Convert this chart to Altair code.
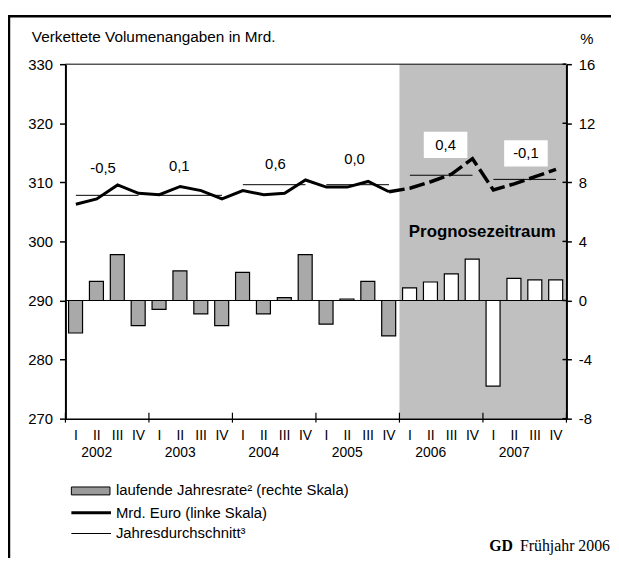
import altair as alt
import pandas as pd

# ---------------- data ----------------
quarters = ["I", "II", "III", "IV"] * 6
years = ["2002", "2003", "2004", "2005", "2006", "2007"]
# laufende Jahresrate (right scale, %)
rate = [-2.2, 1.3, 3.1, -1.7, -0.6, 2.0, -0.9, -1.7, 1.9, -0.9, 0.2, 3.1,
        -1.6, 0.1, 1.3, -2.4, 0.85, 1.25, 1.8, 2.8, -5.8, 1.5, 1.4, 1.4]
# Mrd. Euro (left scale), actual 2002Q1-2005Q4
gdp_actual = [306.3, 307.2, 309.55, 308.15, 307.9, 309.3, 308.6, 307.2,
              308.6, 307.9, 308.15, 310.4, 309.2, 309.2, 310.15, 308.4]
# forecast 2006Q1-2007Q4
gdp_forecast = [309.0, 310.1, 311.4, 314.0, 308.7, 309.75, 310.95, 312.2]
# Jahresdurchschnitt
annual_avg = [307.8, 307.8, 309.6, 309.6, 311.2, 310.5]
growth_labels = ["-0,5", "0,1", "0,6", "0,0", "0,4", "-0,1"]
# label anchor positions (quarter units / left-scale units)
label_x = [1.8, 5.45, 10.06, 13.85, 18.21, 22.06]
label_y = [312.45, 312.75, 313.1, 313.9, 316.35, 314.9]
forecast_start = 16

FONT = "Liberation Sans"
FONT_N = "Liberation Sans Narrow, Arial Narrow, Liberation Sans"
SERIF = "Liberation Serif"
W, H = 506, 358

n = len(quarters)
idx = list(range(n))

bar_df = pd.DataFrame({
    "x0": [i + 0.15 for i in idx],
    "x1": [i + 0.82 for i in idx],
    "rate": rate,
    "zero": [0] * n,
    "fc": [i >= forecast_start for i in idx],
})
act_df = pd.DataFrame({"x": [i + 0.5 for i in range(len(gdp_actual))], "v": gdp_actual})
fc_df = pd.DataFrame({
    "x": [forecast_start - 0.5] + [forecast_start + i + 0.5 for i in range(len(gdp_forecast))],
    "v": [gdp_actual[-1]] + gdp_forecast,
})
avg_df = pd.DataFrame({
    "x0": [4 * k + 0.5 for k in range(len(years))],
    "x1": [4 * k + 3.5 for k in range(len(years))],
    "v": annual_avg,
})
lab_df = pd.DataFrame({"x": label_x, "y": label_y, "t": growth_labels,
                       "fc": [4 * k >= forecast_start for k in range(len(years))]})
q_df = pd.DataFrame({"x": [i + 0.5 for i in idx], "q": quarters})
y_df = pd.DataFrame({"x": [4 * k + 1.5 for k in range(len(years))], "y": years})
tick_df = pd.DataFrame({"x": list(range(0, n + 1, 4))})
fcst_df = pd.DataFrame({"x0": [forecast_start], "x1": [n]})
span_df = pd.DataFrame({"x0": [0], "x1": [n], "top": [330], "zero": [0]})
rtick_df = pd.DataFrame({"v": list(range(-8, 17, 4))})
one = pd.DataFrame({"a": [0]})

# ---------------- scales / axes ----------------
XS = alt.Scale(domain=[0, n], nice=False, zero=False)
x_axis = alt.Axis(values=list(range(0, n + 1, 4)), labels=False, ticks=False,
                  domainWidth=1.5, domainColor="black", grid=False, title=None, zindex=1)
LS = alt.Scale(domain=[270, 330], nice=False, zero=False)
l_axis = alt.Axis(orient="left", values=list(range(270, 331, 10)), tickSize=6, tickWidth=1.5,
                  domainWidth=2, domainColor="black", tickColor="black", labelPadding=7,
                  grid=False, title=None, zindex=1, labelFontSize=15, labelFont=FONT,
                  labelColor="black")
RS = alt.Scale(domain=[-8, 16], nice=False, zero=False)
r_axis = alt.Axis(orient="right", values=list(range(-8, 17, 4)), tickSize=5, tickWidth=1.5,
                  domainWidth=2, domainColor="black", tickColor="black", labelPadding=7,
                  grid=False, title=None, zindex=1, labelFontSize=15, labelFont=FONT,
                  labelColor="black", labelExpr="'' + datum.value")


def xq(f):
    return alt.X(f"{f}:Q", scale=XS, axis=x_axis)


def yl(f):
    return alt.Y(f"{f}:Q", scale=LS, axis=l_axis)


def yr(f):
    return alt.Y(f"{f}:Q", scale=RS, axis=r_axis)


def txt(text, x, y, size=15, align="left", weight="normal", font=FONT):
    return alt.Chart(one).mark_text(align=align, baseline="middle", fontSize=size,
                                    fontWeight=weight, font=font, color="black").encode(
        x=alt.value(x), y=alt.value(y), text=alt.value(text))


# ---------------- group A1: forecast shading ----------------
shade = alt.Chart(fcst_df).mark_rect(color="#c0c0c0").encode(
    x=xq("x0"), x2="x1", y=alt.value(0), y2=alt.value(H))

# ---------------- group B: bars on right scale ----------------
zero_line = alt.Chart(span_df).mark_rule(color="black", strokeWidth=1).encode(
    x=xq("x0"), x2="x1", y=yr("zero"))
bars_act = alt.Chart(bar_df[~bar_df.fc]).mark_rect(
    fill="#a9a9a9", stroke="black", strokeWidth=1.2).encode(
    x=xq("x0"), x2="x1", y=yr("rate"), y2="zero")
bars_fc = alt.Chart(bar_df[bar_df.fc]).mark_rect(
    fill="white", stroke="black", strokeWidth=1.2).encode(
    x=xq("x0"), x2="x1", y=yr("rate"), y2="zero")
rticks = alt.Chart(rtick_df).mark_rule(color="black", strokeWidth=1.5).encode(
    y=yr("v"), x=alt.value(W - 4), x2=alt.value(W))
group_b = alt.layer(zero_line, bars_act, bars_fc, rticks)

# ---------------- group C: lines on left scale ----------------
avg_rules = alt.Chart(avg_df).mark_rule(color="black", strokeWidth=1).encode(
    x=xq("x0"), x2="x1", y=yl("v"))
line_act = alt.Chart(act_df).mark_line(color="black", strokeWidth=3).encode(
    x=xq("x"), y=yl("v"))
line_fc = alt.Chart(fc_df).mark_line(color="black", strokeWidth=3.5, strokeDash=[16, 5]).encode(
    x=xq("x"), y=yl("v"))
boxes = alt.Chart(lab_df[lab_df.fc]).mark_point(
    shape="M-1,-0.6L1,-0.6L1,0.6L-1,0.6Z", size=1936, filled=True, color="white",
    opacity=1, strokeWidth=0).encode(x=xq("x"), y=yl("y"))
labels = alt.Chart(lab_df).mark_text(fontSize=15, font=FONT, color="black",
                                     baseline="middle").encode(
    x=xq("x"), y=yl("y"), text="t:N")
top_rule = alt.Chart(span_df).mark_rule(color="black", strokeWidth=1).encode(
    x=xq("x0"), x2="x1", y=yl("top"))
group_c = alt.layer(avg_rules, line_act, line_fc, boxes, labels, top_rule)

# ---------------- group A2: texts, legend, frame ----------------
q_labels = alt.Chart(q_df).mark_text(fontSize=14, font=FONT_N, color="black",
                                     baseline="middle").encode(
    x=xq("x"), y=alt.value(376), text="q:N")
yr_labels = alt.Chart(y_df).mark_text(fontSize=14, font=FONT_N, color="black",
                                      baseline="middle").encode(
    x=xq("x"), y=alt.value(393), text="y:N")
yticks = alt.Chart(tick_df).mark_rule(color="black", strokeWidth=1.2).encode(
    x=xq("x"), y=alt.value(H - 6), y2=alt.value(H + 4))

swatch = alt.Chart(one).mark_rect(fill="#9a9a9a", stroke="black", strokeWidth=1).encode(
    x=alt.value(6), x2=alt.value(45), y=alt.value(427), y2=alt.value(435))
leg_thick = alt.Chart(one).mark_rule(color="black", strokeWidth=3).encode(
    x=alt.value(6), x2=alt.value(46), y=alt.value(453))
leg_thin = alt.Chart(one).mark_rule(color="black", strokeWidth=1.2).encode(
    x=alt.value(6), x2=alt.value(46), y=alt.value(474))

frame_left = alt.Chart(one).mark_rule(color="black", strokeWidth=2.5).encode(
    x=alt.value(-57), y=alt.value(-49.5), y2=alt.value(520))
frame_top = alt.Chart(one).mark_rule(color="black", strokeWidth=2.5).encode(
    x=alt.value(-58), x2=alt.value(570), y=alt.value(-48.5))

group_a2 = alt.layer(
    q_labels, yr_labels, yticks,
    txt("Verkettete Volumenangaben in Mrd.", -34, -27, size=15.5),
    txt("%", 520, -25),
    txt("Prognosezeitraum", 421, 170, size=17, align="center", weight="bold"),
    swatch, txt("laufende Jahresrate² (rechte Skala)", 51, 430.5),
    leg_thick, txt("Mrd. Euro (linke Skala)", 51, 453),
    leg_thin, txt("Jahresdurchschnitt³", 51, 474),
    txt("GD", 428, 487, size=16, weight="bold", font=SERIF),
    txt("Frühjahr 2006", 459, 487, size=16, font=SERIF),
    frame_left, frame_top,
)

chart = alt.layer(shade, group_b, group_c, group_a2).resolve_scale(
    y="independent"
).properties(
    width=W, height=H,
    padding={"left": 58, "top": 54, "right": 45, "bottom": 138},
    autosize=alt.AutoSizeParams(type="none"),
).configure_view(stroke=None)

chart.save("out.html", embed_options={"renderer": "svg", "actions": False})
